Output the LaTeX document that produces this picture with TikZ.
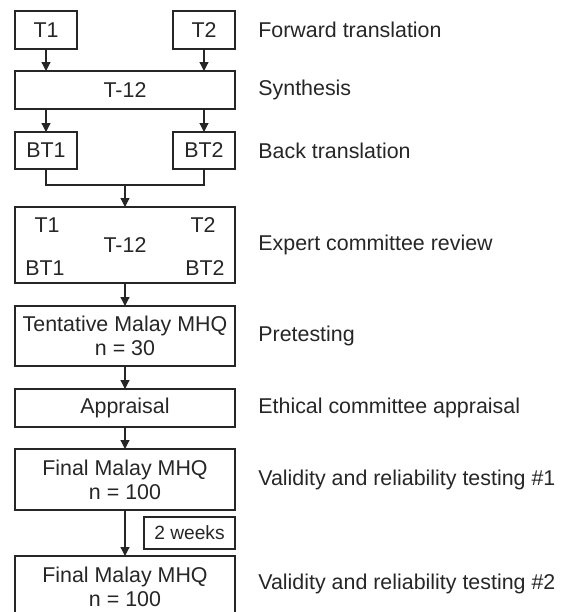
\documentclass[tikz,border=0pt]{standalone}
\usepackage{fontspec}
\setmainfont{Liberation Sans}
\usetikzlibrary{positioning,arrows.meta}
\begin{document}
\begin{tikzpicture}[
font=\fontsize{10.7}{12}\selectfont,
stagebox/.style={rectangle, draw=black!85, text=black!85, line width=0.6pt, minimum height=19pt, inner sep=0pt, outer sep=0pt, align=center},
smallbox/.style={stagebox, minimum width=31pt},
widebox/.style={stagebox, minimum width=110pt},
steplabel/.style={text=black!85, inner sep=0pt},
flow/.style={draw=black!85, line width=0.6pt},
arrowflow/.style={flow, -{Triangle[length=4.5pt,width=4.5pt]}},
]
\useasboundingbox (-62.5pt,45pt) rectangle ++(280.5pt,-306pt);

%Nodes
\node[widebox] (t12) at (0,0) {T-12};
\node[smallbox] (t1) [above=11pt of t12.north west, anchor=south west] {T1};
\node[smallbox] (t2) [above=11pt of t12.north east, anchor=south east] {T2};
\node[smallbox, minimum height=18.5pt] (bt1) [below=11.5pt of t12.south west, anchor=north west] {BT1};
\node[smallbox, minimum height=18.5pt] (bt2) [below=11.5pt of t12.south east, anchor=north east] {BT2};
\node[widebox, minimum height=38pt] (expert) [below=19pt of bt1.south west, anchor=north west] {\raisebox{-1pt}{T-12}};
\node[steplabel] (exp-t1) at ([xshift=16pt,yshift=-9pt]expert.north west) {T1};
\node[steplabel] (exp-t2) at ([xshift=-16pt,yshift=-9pt]expert.north east) {T2};
\node[steplabel] (exp-bt1) at ([xshift=15pt,yshift=7.5pt]expert.south west) {BT1};
\node[steplabel] (exp-bt2) at ([xshift=-15pt,yshift=7.5pt]expert.south east) {BT2};
\node[widebox, minimum height=30pt] (pretest) [below=11.5pt of expert] {Tentative Malay MHQ\\n = 30};
\node[widebox] (appraisal) [below=11.5pt of pretest] {Appraisal};
\node[widebox, minimum height=30.5pt] (final1) [below=11pt of appraisal] {Final Malay MHQ\\n = 100};
\node[widebox, minimum height=30.5pt] (final2) [below=23pt of final1] {Final Malay MHQ\\n = 100};
\node[stagebox, minimum width=45.5pt, minimum height=16pt, font=\fontsize{9.6}{11}\selectfont] (weeks) [below=3.5pt of final1.south east, anchor=north east] {2 weeks};

%Labels
\node[steplabel] (lab-fwd) [right=11.5pt of t2] {Forward translation};
\node[steplabel] (lab-syn) [right=11.5pt of t12] {Synthesis};
\node[steplabel] (lab-back) [right=11.5pt of bt2] {Back translation};
\node[steplabel] (lab-exp) [right=11.5pt of expert] {Expert committee review};
\node[steplabel] (lab-pre) [right=11.5pt of pretest] {Pretesting};
\node[steplabel] (lab-eth) [right=11.5pt of appraisal] {Ethical committee appraisal};
\node[steplabel] (lab-val1) [right=11.5pt of final1] {Validity and reliability testing \#1};
\node[steplabel] (lab-val2) [right=11.5pt of final2, yshift=1.5pt] {Validity and reliability testing \#2};

%Lines
\draw[arrowflow] (t1.south) -- (t1.south |- t12.north);
\draw[arrowflow] (t2.south) -- (t2.south |- t12.north);
\draw[arrowflow] (bt1.north |- t12.south) -- (bt1.north);
\draw[arrowflow] (bt2.north |- t12.south) -- (bt2.north);
\coordinate (merge) at ([yshift=-8pt]bt1.south);
\draw[flow] (bt1.south) -- (merge) -| (bt2.south);
\draw[arrowflow] (merge -| expert.north) -- (expert.north);
\draw[arrowflow] (expert.south) -- (pretest.north);
\draw[arrowflow] (pretest.south) -- (appraisal.north);
\draw[arrowflow] (appraisal.south) -- (final1.north);
\draw[arrowflow] (final1.south) -- (final2.north);
\end{tikzpicture}
\end{document}
